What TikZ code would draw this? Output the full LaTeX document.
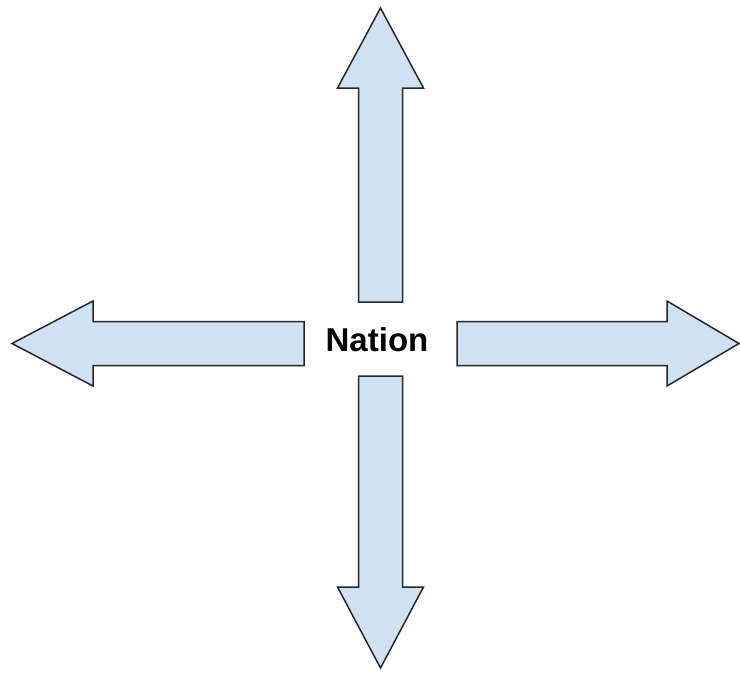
\documentclass[tikz,border=0pt]{standalone}
\usepackage{fontspec}
\setmainfont{Liberation Sans}
\usepackage{tikz}
\usetikzlibrary{positioning}

\definecolor{arrowblue}{HTML}{CFE2F3}
\tikzset{
  blockarrow/.style={draw=black!85, fill=arrowblue, line width=1.5pt, line join=miter},
  nationlabel/.style={font=\fontsize{33}{38}\selectfont\bfseries, inner sep=0pt}
}

\begin{document}
\begin{tikzpicture}[x=1pt,y=-1pt]
  \useasboundingbox (0,0) rectangle (740,673);

  \node[nationlabel] (nation) at (377,340) {Nation};

  % up
  \draw[blockarrow] (358.5,302) -- (358.5,88) -- (337.5,88) -- (380.5,8)
    -- (423.5,88) -- (402.5,88) -- (402.5,302) -- cycle;
  % down
  \draw[blockarrow] (358.5,376) -- (358.5,587) -- (337.5,587) -- (380.5,668)
    -- (423.5,587) -- (402.5,587) -- (402.5,376) -- cycle;
  % left
  \draw[blockarrow] (304,321.5) -- (93,321.5) -- (93,301) -- (12,343.5)
    -- (93,386) -- (93,365.5) -- (304,365.5) -- cycle;
  % right
  \draw[blockarrow] (457,321.5) -- (667,321.5) -- (667,301) -- (739,343.5)
    -- (667,386) -- (667,365.5) -- (457,365.5) -- cycle;
\end{tikzpicture}
\end{document}
